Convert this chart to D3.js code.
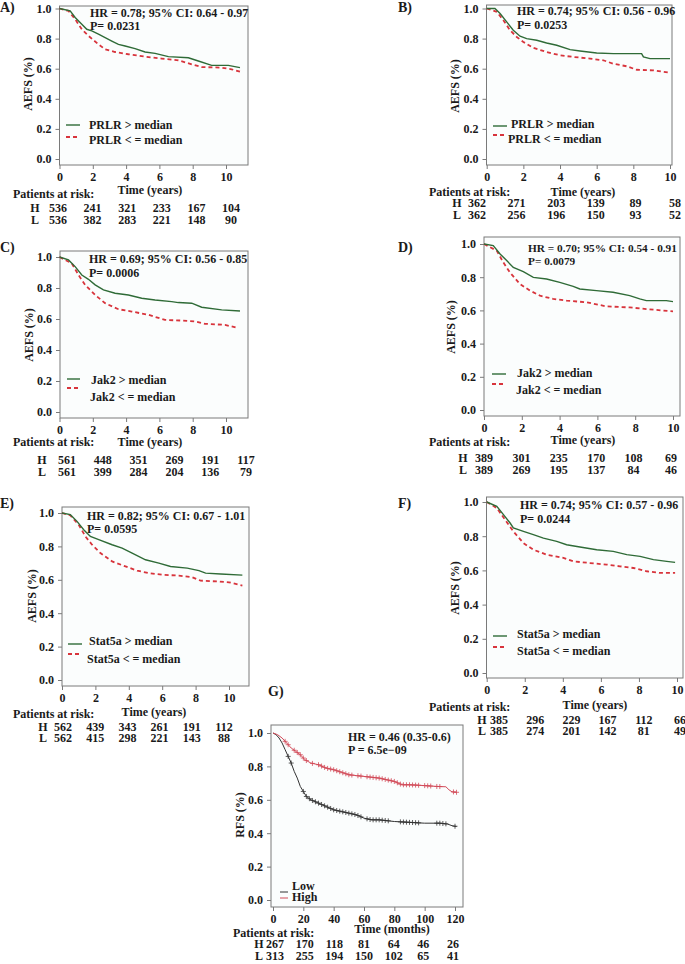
<!DOCTYPE html>
<html><head><meta charset="utf-8">
<script src="https://cdn.jsdelivr.net/npm/d3@7"></script>
<style>
html,body{margin:0;padding:0;background:#fff;}
svg{display:block;font-family:"Liberation Serif","Times New Roman",serif;font-weight:bold;}
</style></head>
<body><svg id="chart" width="685" height="964"></svg>
<script>
// ---------- DATA ----------
const yearTicks = [0, 2, 4, 6, 8, 10];
const monthTicks = [0, 20, 40, 60, 80, 100, 120];
const survTicks = [0, 0.2, 0.4, 0.6, 0.8, 1.0];

// Panel A (PRLR, cohort 1)
const tA_H = [0,0.64,0.94,1.34,1.64,1.94,2.34,2.74,3.14,3.54,3.94,4.54,5.14,5.74,6.54,7.74,8.34,9.14,10.14,10.84];
const sA_H = [1,0.984,0.94,0.896,0.862,0.851,0.829,0.807,0.784,0.762,0.751,0.733,0.711,0.702,0.68,0.673,0.651,0.622,0.622,0.607];
const tA_L = [0,0.54,0.94,1.34,1.74,2.34,2.74,3.34,4.14,5.14,6.14,7.14,7.94,8.54,9.74,10.34,10.84];
const sA_L = [1,0.984,0.929,0.862,0.818,0.762,0.729,0.711,0.696,0.68,0.667,0.656,0.629,0.611,0.607,0.596,0.58];
const riskA_H = [536,241,321,233,167,104];
const riskA_L = [536,382,283,221,148,90];

// Panel B (PRLR, cohort 2)
const tB_H = [0,0.45,0.73,1.09,1.45,1.82,2.18,2.73,3.27,3.82,4.55,5.09,6.0,6.91,8.45,8.55,8.91,10];
const sB_H = [1,1.0,0.967,0.911,0.856,0.816,0.8,0.789,0.771,0.756,0.727,0.718,0.704,0.7,0.7,0.678,0.667,0.667];
const tB_L = [0,0.55,0.91,1.27,1.64,2.0,2.55,3.27,4.0,4.73,5.64,6.36,6.91,7.64,8.18,9.09,10];
const sB_L = [1,0.978,0.922,0.856,0.811,0.778,0.738,0.711,0.689,0.678,0.667,0.656,0.633,0.616,0.593,0.589,0.573];
const riskB_H = [362,271,203,139,89,58];
const riskB_L = [362,256,196,150,93,52];

// Panel C (Jak2, cohort 1)
const tC_H = [0,0.54,0.94,1.34,1.74,2.14,2.64,3.34,4.14,4.94,5.74,6.74,7.14,7.94,8.54,9.74,10.84];
const sC_H = [1,0.981,0.938,0.884,0.856,0.82,0.788,0.766,0.755,0.734,0.723,0.712,0.706,0.702,0.676,0.659,0.652];
const tC_L = [0,0.74,1.14,1.54,2.14,2.74,3.54,4.34,5.34,6.34,7.34,8.14,8.74,9.94,10.34,10.74];
const sC_L = [1,0.959,0.884,0.82,0.755,0.702,0.663,0.648,0.627,0.594,0.59,0.584,0.569,0.562,0.552,0.541];
const riskC_H = [561,448,351,269,191,117];
const riskC_L = [561,399,284,204,136,79];

// Panel D (Jak2, cohort 2)
const tD_H = [0,0.49,0.85,1.2,1.55,2.08,2.61,3.31,4.01,4.72,5.07,5.95,6.83,7.71,8.24,8.59,9.65,10];
const sD_H = [1,0.99,0.94,0.9,0.859,0.833,0.799,0.789,0.769,0.745,0.729,0.719,0.709,0.689,0.669,0.659,0.659,0.653];
const tD_L = [0,0.67,1.02,1.37,1.9,2.43,2.96,3.66,4.37,5.42,6.48,7.71,8.59,10];
const sD_L = [1,0.96,0.89,0.829,0.759,0.719,0.689,0.669,0.659,0.649,0.624,0.618,0.608,0.594];
const riskD_H = [389,301,235,170,108,69];
const riskD_L = [389,269,195,137,84,46];

// Panel E (Stat5a, cohort 1)
const tE_H = [0,0.5,0.9,1.3,1.7,2.2,3.0,3.6,4.2,5.0,5.8,6.5,7.5,8.2,8.6,9.5,10.8];
const sE_H = [1,0.99,0.95,0.9,0.86,0.84,0.81,0.79,0.76,0.72,0.70,0.68,0.67,0.655,0.64,0.635,0.628];
const tE_L = [0,0.5,1.0,1.4,1.8,2.3,3.0,3.8,4.5,5.2,6.0,7.0,7.8,8.3,9.3,10.0,10.8];
const sE_L = [1,0.985,0.93,0.86,0.81,0.76,0.71,0.68,0.655,0.64,0.63,0.625,0.615,0.595,0.59,0.585,0.565];
const riskE_H = [562,439,343,261,191,112];
const riskE_L = [562,415,298,221,143,88];

// Panel F (Stat5a, cohort 2)
const tF_H = [0,0.53,0.88,1.23,1.4,1.93,2.45,2.98,3.68,4.2,4.9,5.78,6.65,7.36,8.06,8.76,9.46,9.9];
const sF_H = [1,0.975,0.926,0.877,0.848,0.828,0.809,0.789,0.77,0.75,0.737,0.721,0.711,0.692,0.682,0.663,0.653,0.647];
const tF_L = [0,0.53,0.96,1.4,1.93,2.45,3.15,4.03,4.55,5.43,6.3,7.0,7.71,8.41,9.11,9.9];
const sF_L = [1,0.965,0.897,0.828,0.76,0.721,0.692,0.673,0.653,0.643,0.634,0.624,0.614,0.595,0.585,0.585];
const riskF_H = [385,296,229,167,112,66];
const riskF_L = [385,274,201,142,81,49];

// Panel G (RFS, months)
const tG_Low = [0,2,4,6,8,10,12,14,16,18,20,22,25,30,35,40,45,50,55,60,65,70,80,90,100,110,115,118,121];
const sG_Low = [1,0.99,0.97,0.94,0.9,0.86,0.82,0.77,0.73,0.68,0.65,0.62,0.6,0.58,0.56,0.54,0.53,0.52,0.51,0.49,0.48,0.48,0.47,0.465,0.46,0.46,0.455,0.445,0.44];
const tG_High = [0,3,6,9,12,15,18,21,25,30,35,40,45,50,55,60,65,70,75,80,85,90,100,108,114,116,118,121];
const sG_High = [1,0.99,0.97,0.94,0.91,0.89,0.87,0.84,0.82,0.81,0.79,0.78,0.765,0.75,0.745,0.74,0.735,0.73,0.72,0.71,0.69,0.69,0.685,0.68,0.678,0.66,0.648,0.645];
const censG_Low = [10,12,20,22,24,26,28,30,32,34,36,38,40,42,44,46,48,50,52,54,56,58,62,64,66,68,70,72,74,76,84,86,88,90,92,94,96,108,110,112,114,120];
const censG_High = [8,10,14,16,18,20,22,26,30,32,34,36,38,40,42,44,46,48,50,52,56,58,62,64,66,68,70,72,74,76,78,80,82,84,86,88,90,92,94,96,100,102,104,108,110,119,121];
const riskG_H = [267,170,118,81,64,46,26];
const riskG_L = [313,255,194,150,102,65,41];

// ---------- LAYOUT ----------
const GREEN = "#2f6b37", RED = "#d8343c", GLOW = "#333", GHIGH = "#d24a58";
const panels = [
 {id:"A)", lab:[0,7], frame:[59.5,248,6,165], xr:[59.5,226], yr:[159,8.5], xd:10, ticks:yearTicks,
  H:[tA_H,sA_H], L:[tA_L,sA_L], rH:riskA_H, rL:riskA_L, hr:"HR = 0.78; 95% CI: 0.64 - 0.97", p:"P= 0.0231",
  hrPos:[90,13,26], hrSize:12, leg:["PRLR > median","PRLR < = median"], legPos:[66,80,125,137,89,125,89,140],
  ylab:[28,84,"AEFS (%)"], xlab:[150,190,"Time (years)"], pat:[13,194], riskR:[58,231], hx:35, rowY:[208,220], xtY:177},
 {id:"B)", lab:[398,7], frame:[486.5,672,5,165], xr:[486.7,670], yr:[159,8.5], xd:10, ticks:yearTicks,
  H:[tB_H,sB_H], L:[tB_L,sB_L], rH:riskB_H, rL:riskB_L, hr:"HR = 0.74; 95% CI: 0.56 - 0.96", p:"P= 0.0253",
  hrPos:[517,11,25], hrSize:12, leg:["PRLR > median","PRLR < = median"], legPos:[493,507,126,135,511,124,508,139],
  ylab:[455,86,"AEFS (%)"], xlab:[583,192,"Time (years)"], pat:[429,192], riskR:[477,675], hx:457, rowY:[203,215], xtY:178},
 {id:"C)", lab:[0,247], frame:[60,248,251,418], xr:[59.5,226], yr:[412,257], xd:10, ticks:yearTicks,
  H:[tC_H,sC_H], L:[tC_L,sC_L], rH:riskC_H, rL:riskC_L, hr:"HR = 0.69; 95% CI: 0.56 - 0.85", p:"P= 0.0006",
  hrPos:[89,259,273], hrSize:12, leg:["Jak2 > median","Jak2 < = median"], legPos:[67,80,379,388,91,380,90,397],
  ylab:[29,335,"AEFS (%)"], xlab:[150,442,"Time (years)"], pat:[13,442], riskR:[67,246], hx:42, rowY:[460,472], xtY:428},
 {id:"D)", lab:[398,247], frame:[484,680,237,416], xr:[484,673], yr:[410,244], xd:10, ticks:yearTicks,
  H:[tD_H,sD_H], L:[tD_L,sD_L], rH:riskD_H, rL:riskD_L, hr:"HR = 0.70; 95% CI: 0.54 - 0.91", p:"P= 0.0079",
  hrPos:[528,248,261], hrSize:11.3, leg:["Jak2 > median","Jak2 < = median"], legPos:[492,506,374,384,517,373,516,390],
  ylab:[451,327,"AEFS (%)"], xlab:[583,440,"Time (years)"], pat:[429,442], riskR:[484,671], hx:463, rowY:[458,470], xtY:427},
 {id:"E)", lab:[0,503], frame:[62,249,507,686], xr:[62,229], yr:[680,513], xd:10, ticks:yearTicks,
  H:[tE_H,sE_H], L:[tE_L,sE_L], rH:riskE_H, rL:riskE_L, hr:"HR = 0.82; 95% CI: 0.67 - 1.01", p:"P= 0.0595",
  hrPos:[87,516,529], hrSize:12, leg:["Stat5a > median","Stat5a < = median"], legPos:[68,82,644,654,89,641,87,659],
  ylab:[32,596,"AEFS (%)"], xlab:[154,712,"Time (years)"], pat:[13,714], riskR:[63,224], hx:43, rowY:[727,738], xtY:697},
 {id:"F)", lab:[398,503], frame:[486.5,683,497,678], xr:[486.7,677], yr:[673,502], xd:10, ticks:yearTicks,
  H:[tF_H,sF_H], L:[tF_L,sF_L], rH:riskF_H, rL:riskF_L, hr:"HR = 0.74; 95% CI: 0.57 - 0.96", p:"P= 0.0244",
  hrPos:[520,505,519], hrSize:12, leg:["Stat5a > median","Stat5a < = median"], legPos:[493,507,636,647,517,634,517,651],
  ylab:[455,588,"AEFS (%)"], xlab:[595,705,"Time (years)"], pat:[429,707], riskR:[499,680], hx:482, rowY:[720,731], xtY:692}
];
const panelG = {id:"G)", lab:[268,691], frame:[271,463,725,907], xr:[273,455], yr:[900,733], xd:120, ticks:monthTicks,
  hr:"HR = 0.46 (0.35-0.6)", p:"P = 6.5e\u221209", hrPos:[348,737,750], hrSize:12,
  ylab:[240,815,"RFS (%)"], xlab:[392,929,"Time (months)"], pat:[233,933], riskR:[275,453], hx:259, rowY:[944,956], xtY:916};

// ---------- DRAW ----------
const svg = d3.select("#chart");
const TXT = "#1a1a1a";

function txt(g, x, y, s, size, anchor) {
  return g.append("text").attr("x", x).attr("y", y).attr("dominant-baseline", "central")
    .attr("text-anchor", anchor || "start").attr("font-size", size || 12).attr("fill", TXT).text(s);
}

function basePanel(P) {
  const g = svg.append("g");
  const [fx0, fx1, fy0, fy1] = P.frame;
  const x = d3.scaleLinear().domain([0, P.xd]).range(P.xr);
  const y = d3.scaleLinear().domain([0, 1]).range(P.yr);
  g.append("rect").attr("x", fx0).attr("y", fy0).attr("width", fx1 - fx0).attr("height", fy1 - fy0)
    .attr("fill", "#fbfdfd").attr("stroke", "#7a7a7a").attr("stroke-width", 1);
  const ya = g.append("g").attr("transform", `translate(${fx0},0)`)
    .call(d3.axisLeft(y).tickValues(survTicks).tickFormat(d3.format(".1f")).tickSize(4).tickPadding(4));
  const xa = g.append("g").attr("transform", `translate(0,${fy1})`)
    .call(d3.axisBottom(x).tickValues(P.ticks).tickSize(4).tickPadding(3));
  [ya, xa].forEach(a => {
    a.select(".domain").remove();
    a.selectAll("line").attr("stroke", "#7a7a7a");
    a.selectAll("text").attr("font-size", 12).attr("fill", TXT)
      .attr("font-family", "Liberation Serif, serif").attr("font-weight", "bold");
  });
  txt(g, P.lab[0], P.lab[1], P.id, 14);
  txt(g, P.hrPos[0], P.hrPos[1], P.hr, P.hrSize);
  txt(g, P.hrPos[0], P.hrPos[2], P.p, P.hrSize);
  g.append("text").attr("transform", `translate(${P.ylab[0]},${P.ylab[1]}) rotate(-90)`)
    .attr("text-anchor", "middle").attr("dominant-baseline", "central").attr("font-size", 12)
    .attr("fill", TXT).text(P.ylab[2]);
  txt(g, P.xlab[0], P.xlab[1], P.xlab[2], 12, "middle");
  txt(g, P.pat[0], P.pat[1], "Patients at risk:", 12);
  return {g, x, y};
}

function riskTable(g, P, rH, rL) {
  const rx = d3.scaleLinear().domain([0, P.ticks.length - 1]).range(P.riskR);
  [["H", rH, P.rowY[0]], ["L", rL, P.rowY[1]]].forEach(([lab, arr, yy]) => {
    txt(g, P.hx, yy, lab, 12, "middle");
    g.selectAll(null).data(arr).enter().append("text")
      .attr("x", (d, i) => rx(i)).attr("y", yy).attr("text-anchor", "middle")
      .attr("dominant-baseline", "central").attr("font-size", 12).attr("fill", TXT).text(d => d);
  });
}

panels.forEach(P => {
  const {g, x, y} = basePanel(P);
  const line = d3.line().x(d => x(d[0])).y(d => y(d[1])).curve(d3.curveLinear);
  const H = d3.zip(P.H[0], P.H[1]);
  const L = d3.zip(P.L[0], P.L[1]);
  g.append("path").attr("d", line(L)).attr("fill", "none").attr("stroke", RED)
    .attr("stroke-width", 1.8).attr("stroke-dasharray", "4,3");
  g.append("path").attr("d", line(H)).attr("fill", "none").attr("stroke", GREEN).attr("stroke-width", 1.4);
  const lp = P.legPos;
  g.append("line").attr("x1", lp[0]).attr("x2", lp[1]).attr("y1", lp[2]).attr("y2", lp[2])
    .attr("stroke", GREEN).attr("stroke-width", 1.4);
  g.append("line").attr("x1", lp[0]).attr("x2", lp[1]).attr("y1", lp[3]).attr("y2", lp[3])
    .attr("stroke", RED).attr("stroke-width", 1.8).attr("stroke-dasharray", "4,3");
  txt(g, lp[4], lp[5], P.leg[0], 12);
  txt(g, lp[6], lp[7], P.leg[1], 12);
  riskTable(g, P, P.rH, P.rL);
});

// Panel G
(function () {
  const P = panelG;
  const {g, x, y} = basePanel(P);
  const line = d3.line().x(d => x(d[0])).y(d => y(d[1])).curve(d3.curveLinear);
  const series = [
    {t: tG_Low, s: sG_Low, c: censG_Low, col: GLOW},
    {t: tG_High, s: sG_High, c: censG_High, col: GHIGH}
  ];
  series.forEach(S => {
    g.append("path").attr("d", line(d3.zip(S.t, S.s))).attr("fill", "none")
      .attr("stroke", S.col).attr("stroke-width", 1);
    const interp = t => {
      const i = Math.min(S.t.length - 2, Math.max(0, d3.bisectRight(S.t, t) - 1));
      const f = (t - S.t[i]) / (S.t[i + 1] - S.t[i]);
      return S.s[i] + f * (S.s[i + 1] - S.s[i]);
    };
    g.selectAll(null).data(S.c).enter().append("path")
      .attr("d", d => `M${x(d) - 2.5},${y(interp(d))}h5M${x(d)},${y(interp(d)) - 2.5}v5`)
      .attr("stroke", S.col).attr("stroke-width", 0.8);
  });
  g.append("line").attr("x1", 280).attr("x2", 288).attr("y1", 892).attr("y2", 892).attr("stroke", GLOW);
  g.append("line").attr("x1", 280).attr("x2", 288).attr("y1", 898).attr("y2", 898).attr("stroke", GHIGH);
  txt(g, 292, 886, "Low", 12);
  txt(g, 292, 897, "High", 12);
  riskTable(g, P, riskG_H, riskG_L);
})();
</script>
</body></html>
